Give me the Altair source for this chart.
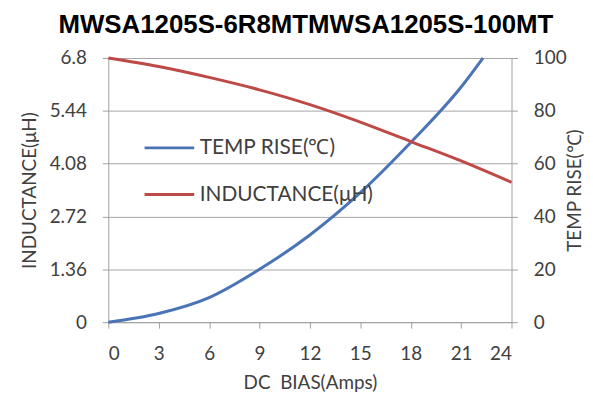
import altair as alt
import pandas as pd

bias_l = [0, 3, 6, 9, 12, 15, 18, 21, 24]
inductance = [6.8, 6.58, 6.3, 5.98, 5.6, 5.15, 4.65, 4.15, 3.6]
bias_t = [0, 3, 6, 9, 12, 15, 18, 21, 22.3]
temp_rise = [0, 3.3, 9.3, 20, 33, 49, 68, 89, 100]

x_ticks = [0, 3, 6, 9, 12, 15, 18, 21, 24]
l_ticks = [0, 1.36, 2.72, 4.08, 5.44, 6.8]
r_ticks = [0, 20, 40, 60, 80, 100]

series = ["TEMP RISE(℃)", "INDUCTANCE(μH)"]
colors = ["#4a74b6", "#be4a47"]

df_l = pd.DataFrame({"x": bias_l, "y": inductance, "s": series[1]})
df_t = pd.DataFrame({"x": bias_t, "y": temp_rise, "s": series[0]})

FONT = "Lato"
LC = "#404040"
FS = 19
AX = "#a0a0a0"

xenc = alt.X("x:Q", scale=alt.Scale(domain=[0, 24], nice=False),
             axis=alt.Axis(values=x_ticks, title="DC\u00a0 BIAS(Amps)", grid=False,
                           labelFontSize=FS, titleFontSize=FS, labelColor=LC, titleColor=LC,
                           labelFont=FONT, titleFont=FONT, titleFontWeight="normal",
                           domainColor=AX, tickColor=AX, tickSize=6,
                           labelPadding=17, titlePadding=10))

color = alt.Color("s:N", scale=alt.Scale(domain=series, range=colors),
                  legend=alt.Legend(title=None, orient="none", legendX=35, legendY=64,
                                    symbolType="stroke", symbolSize=2500, symbolStrokeWidth=3,
                                    labelFontSize=21, labelFont=FONT, labelColor=LC,
                                    labelLimit=400, rowPadding=10, labelOffset=4))

left = alt.Chart(df_l).mark_line(strokeWidth=3, interpolate="monotone").encode(
    x=xenc,
    y=alt.Y("y:Q", scale=alt.Scale(domain=[0, 6.8], nice=False),
            axis=alt.Axis(values=l_ticks, format=".3~g", title="INDUCTANCE(μH)", orient="left",
                          grid=True, gridColor="#a6a6a6", labelFontSize=FS, titleFontSize=FS,
                          labelColor=LC, titleColor=LC, labelFont=FONT, titleFont=FONT,
                          titleFontWeight="normal", domainColor=AX, tickColor=AX,
                          tickSize=6, labelPadding=16, titlePadding=10)),
    color=color,
)

right = alt.Chart(df_t).mark_line(strokeWidth=3, interpolate="monotone").encode(
    x=alt.X("x:Q", scale=alt.Scale(domain=[0, 24], nice=False)),
    y=alt.Y("y:Q", scale=alt.Scale(domain=[0, 100], nice=False),
            axis=alt.Axis(values=r_ticks, title="TEMP RISE(℃)", orient="right",
                          grid=False, labelFontSize=FS, titleFontSize=FS, titleAngle=270,
                          labelColor=LC, titleColor=LC, labelFont=FONT, titleFont=FONT,
                          titleFontWeight="normal", domainColor=AX, tickColor=AX,
                          tickSize=6, labelPadding=16, titlePadding=18)),
    color=color,
)

chart = alt.layer(right, left).resolve_scale(y="independent").properties(
    width=406, height=266,
    title=alt.TitleParams("MWSA1205S-6R8MTMWSA1205S-100MT", font="Liberation Sans",
                          fontSize=26, fontWeight="bold", color="#000000", anchor="middle",
                          offset=11, dx=-4),
    background="white",
    padding={"left": 12, "top": 3, "right": 0, "bottom": 0},
).configure_view(stroke=None)

chart.save("out.html", embed_options={"renderer": "svg", "actions": False})
